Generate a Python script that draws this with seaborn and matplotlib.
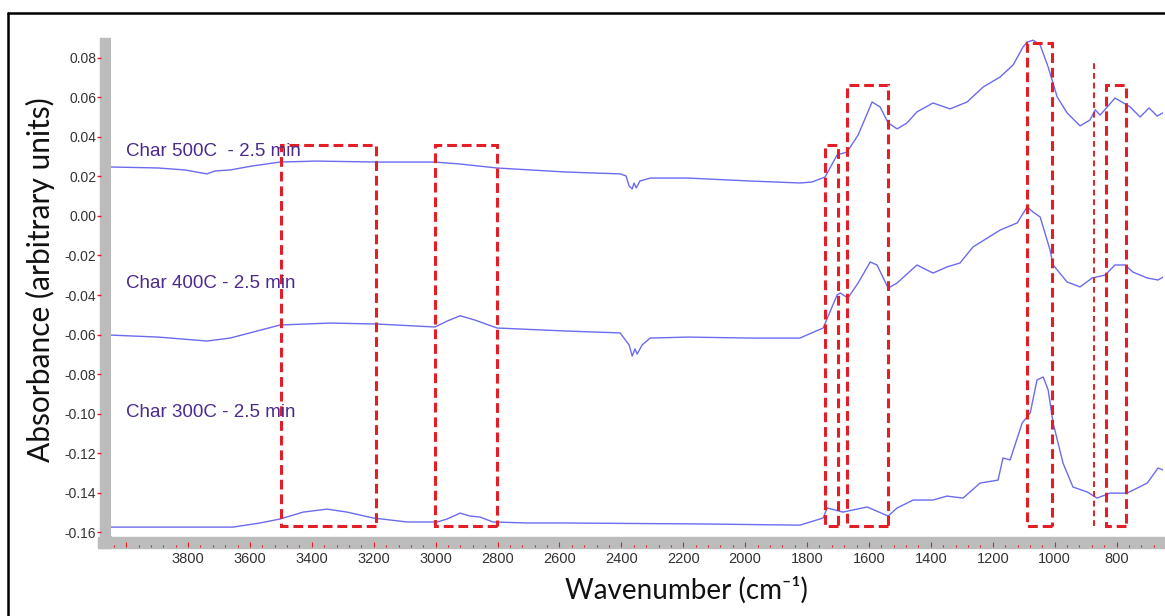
import matplotlib
matplotlib.use("Agg")
import matplotlib.pyplot as plt
from matplotlib.patches import Rectangle
from matplotlib.lines import Line2D
from matplotlib.ticker import FixedLocator, MultipleLocator
import numpy as np
import pandas as pd
import seaborn as sns

# spectra (wavenumber cm-1, absorbance)
wn_500 = [4049, 3897, 3810, 3739, 3713, 3664, 3593, 3503, 3386, 3189, 3002, 2921, 2802, 2585,
          2404, 2385, 2375, 2365, 2359, 2352, 2340, 2307, 2185, 1984, 1823, 1784, 1742, 1703,
          1671, 1635, 1590, 1564, 1538, 1509, 1477, 1445, 1393, 1338, 1283, 1231, 1176, 1134,
          1102, 1089, 1070, 1047, 1021, 992, 960, 918, 886, 869, 853, 805, 756, 724, 695, 669,
          650]
ab_500 = [0.0248, 0.0243, 0.0233, 0.0213, 0.0228, 0.0233, 0.0253, 0.0273, 0.0278, 0.0273,
          0.0273, 0.0263, 0.0243, 0.0223, 0.0213, 0.0203, 0.0152, 0.0137, 0.0167, 0.0142,
          0.0177, 0.0192, 0.0192, 0.0177, 0.0167, 0.0172, 0.0197, 0.0309, 0.0324, 0.0410,
          0.0577, 0.0552, 0.0471, 0.0441, 0.0471, 0.0527, 0.0572, 0.0542, 0.0577, 0.0653,
          0.0704, 0.0765, 0.0856, 0.0880, 0.0890, 0.0866, 0.0754, 0.0603, 0.0522, 0.0456,
          0.0486, 0.0537, 0.0511, 0.0597, 0.0552, 0.0501, 0.0547, 0.0506, 0.0522]

wn_400 = [4049, 3897, 3739, 3664, 3503, 3341, 3189, 3002, 2963, 2921, 2873, 2802, 2585, 2404,
          2375, 2365, 2356, 2349, 2333, 2307, 2185, 1984, 1823, 1748, 1703, 1693, 1668, 1635,
          1596, 1574, 1538, 1509, 1445, 1393, 1348, 1306, 1264, 1176, 1121, 1089, 1070, 1047,
          1015, 1005, 960, 918, 879, 837, 805, 773, 747, 701, 666, 650]
ab_400 = [-0.0603, -0.0613, -0.0633, -0.0618, -0.0552, -0.0542, -0.0547, -0.0562, -0.0532,
          -0.0505, -0.0527, -0.0567, -0.0582, -0.0592, -0.0653, -0.0709, -0.0673, -0.0699,
          -0.0653, -0.0618, -0.0613, -0.0618, -0.0618, -0.0567, -0.0400, -0.0390, -0.0415,
          -0.0339, -0.0233, -0.0248, -0.0365, -0.0339, -0.0248, -0.0289, -0.0258, -0.0238,
          -0.0157, -0.0071, -0.0035, 0.0046, 0.0020, -0.0005, -0.0172, -0.0248, -0.0334,
          -0.0359, -0.0314, -0.0299, -0.0248, -0.0248, -0.0284, -0.0314, -0.0324, -0.0309]

wn_300 = [4049, 3655, 3567, 3503, 3428, 3351, 3286, 3202, 3092, 2995, 2963, 2921, 2889, 2857,
          2815, 2705, 2598, 2146, 1823, 1748, 1735, 1684, 1606, 1538, 1509, 1457, 1393, 1348,
          1296, 1241, 1183, 1167, 1144, 1105, 1079, 1057, 1037, 1021, 1005, 973, 941, 895,
          863, 821, 766, 701, 666, 650]
ab_300 = [-0.1575, -0.1575, -0.1554, -0.1534, -0.1499, -0.1484, -0.1499, -0.1529, -0.1549,
          -0.1549, -0.1534, -0.1504, -0.1519, -0.1524, -0.1549, -0.1554, -0.1554, -0.1559,
          -0.1565, -0.1529, -0.1478, -0.1499, -0.1473, -0.1519, -0.1478, -0.1438, -0.1438,
          -0.1418, -0.1428, -0.1352, -0.1337, -0.1225, -0.1235, -0.1048, -0.0997, -0.0830,
          -0.0815, -0.0881, -0.1048, -0.1251, -0.1372, -0.1397, -0.1428, -0.1403, -0.1403,
          -0.1352, -0.1276, -0.1286]

samples = ["Char 500C  - 2.5 min", "Char 400C - 2.5 min", "Char 300C - 2.5 min"]
label_y = [0.0324, -0.0340, -0.0997]

# highlighted bands: (high wn, low wn, top absorbance)
boxes_hi = [3499, 3002, 1742, 1671, 1089, 834]
boxes_lo = [3193, 2802, 1700, 1538, 1008, 769]
boxes_top = [0.036, 0.036, 0.036, 0.0663, 0.0876, 0.0663]
box_bottom = -0.157
single_line_wn = 873
single_line_top = 0.078

xticks = [4000, 3800, 3600, 3400, 3200, 3000, 2800, 2600, 2400, 2200, 2000, 1800, 1600,
          1400, 1200, 1000, 800]
xtick_labels = [""] + [str(t) for t in xticks[1:]]
yticks = [-0.16, -0.14, -0.12, -0.10, -0.08, -0.06, -0.04, -0.02, 0.00, 0.02, 0.04, 0.06, 0.08]
ytick_labels = ["-0.16", "-0.14", "-0.12", "-0.10", "-0.08", "-0.06", "-0.04", "-0.02",
                "0.00", "0.02", "0.04", "0.06", "0.08"]

df = pd.concat([
    pd.DataFrame({"wavenumber": wn_500, "absorbance": ab_500, "sample": samples[0]}),
    pd.DataFrame({"wavenumber": wn_400, "absorbance": ab_400, "sample": samples[1]}),
    pd.DataFrame({"wavenumber": wn_300, "absorbance": ab_300, "sample": samples[2]}),
])

sns.set_style("white")
plt.rcParams["font.family"] = ["Liberation Sans", "DejaVu Sans"]

W, H = 1165, 616
fig = plt.figure(figsize=(W / 100, H / 100), dpi=100)
ax = fig.add_axes([111 / W, (H - 536) / H, (1163 - 111) / W, (536 - 38) / H])

line_col = "#6b6bf0"
sns.lineplot(data=df, x="wavenumber", y="absorbance", hue="sample",
             palette=[line_col] * 3, legend=False, estimator=None, lw=1.0, ax=ax)

red = "#e41e26"
for hi, lo, top in zip(boxes_hi, boxes_lo, boxes_top):
    ax.add_patch(Rectangle((lo, box_bottom), hi - lo, top - box_bottom, fill=False,
                           edgecolor=red, lw=2.2, linestyle=(0, (3.2, 1.6)), zorder=3))
ax.plot([single_line_wn, single_line_wn], [box_bottom, single_line_top], color=red,
        lw=1.4, linestyle=(0, (3, 2)), zorder=3)

for s, yy in zip(samples, label_y):
    ax.text(4000, yy, s, color="#4b2a8e", fontsize=13.5, va="center", ha="left")

ax.set_xlim(4049, 650)
ax.set_ylim(-0.162, 0.0901)
ax.xaxis.set_major_locator(FixedLocator(xticks))
ax.set_xticklabels(xtick_labels)
ax.xaxis.set_minor_locator(MultipleLocator(40))
ax.set_yticks(yticks)
ax.set_yticklabels(ytick_labels)

for s in ax.spines.values():
    s.set_visible(False)
ax.spines["left"].set_position(("outward", 7.2))
ax.spines["bottom"].set_position(("outward", 8.0))
ax.tick_params(axis="y", which="major", direction="out", length=3, width=1, color=red,
               labelsize=10, labelcolor="#333333", pad=0.5, left=True)
ax.tick_params(axis="x", which="major", direction="in", length=3.5, width=0.8, color=red,
               labelsize=10.5, labelcolor="#333333", pad=3.5, bottom=True)
ax.tick_params(axis="x", which="minor", direction="in", length=1.6, width=0.8, color=red,
               bottom=True)
ax.set_xlabel("")
ax.set_ylabel("")

# grey axis strips
fig.add_artist(Rectangle((100 / W, (H - 548) / H), 11 / W, (548 - 38) / H,
                         transform=fig.transFigure, color="#bcbcbc", zorder=-1))
fig.add_artist(Rectangle((98 / W, (H - 548) / H), (W - 98) / W, 11 / H,
                         transform=fig.transFigure, color="#bcbcbc", zorder=-1))

fig.text(40 / W, 1 - 280 / H, "Absorbance (arbitrary units)", rotation=90, fontsize=21.5,
         family=["Lato", "DejaVu Sans"], ha="center", va="center", color="#111111")
fig.text(686 / W, 1 - 590 / H, "Wavenumber (cm\u207b\u00b9)", fontsize=20,
         family=["Lato", "DejaVu Sans"], ha="center", va="center", color="#111111")

# outer frame
fig.add_artist(Line2D([7.5 / W, 1.0], [1 - 12.5 / H, 1 - 12.5 / H], color="black", lw=1.8,
                      transform=fig.transFigure))
fig.add_artist(Line2D([7.5 / W, 7.5 / W], [0, 1 - 12.5 / H], color="black", lw=1.8,
                      transform=fig.transFigure))

fig.savefig("out.png", dpi=100)
